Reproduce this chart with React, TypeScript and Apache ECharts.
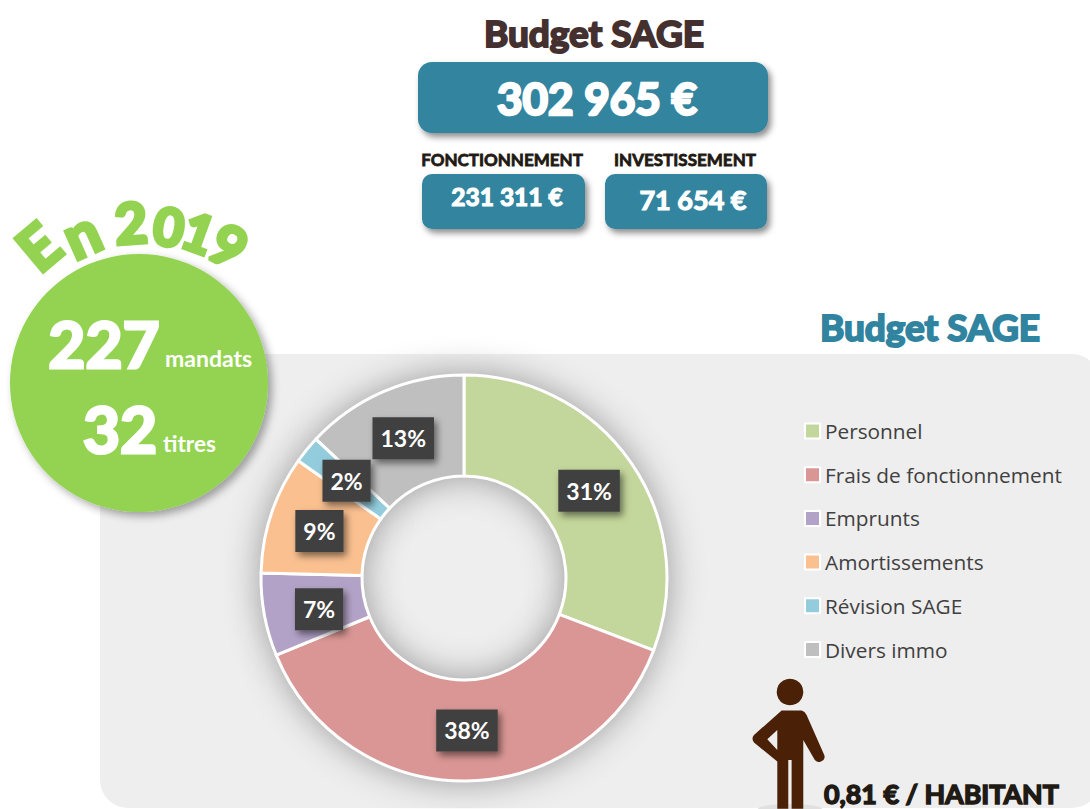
import React, { useEffect, useRef } from "react";
import * as echarts from "echarts";

const categories = ["Personnel", "Frais de fonctionnement", "Emprunts", "Amortissements", "Révision SAGE", "Divers immo"];
const shares = [30.8, 38.0, 6.6, 9.4, 2.2, 13.0];
const sliceColors = ["#C3D69B", "#D99694", "#B3A2C7", "#FAC090", "#93CDDD", "#BFBFBF"];
const labelNudgeX = [-3, 1, 8, 3, 3, 1];
const labelNudgeY = [1, -3, 3, 2, 1, 3];

const TEAL = "#31849F";
const HEAVY = "Lato";
const INK = "#1F1A14";
const GREEN = "#93D351";

const yearGlyphs = [
  { ch: "E", x: 38, y: 246, r: 40, s: 60 },
  { ch: "n", x: 81, y: 233, r: 24, s: 60 },
  { ch: "2", x: 131, y: 222, r: 4, s: 56 },
  { ch: "0", x: 169, y: 226, r: -10, s: 52 },
  { ch: "1", x: 199, y: 232, r: -20, s: 52 },
  { ch: "9", x: 229, y: 245, r: -30, s: 56 },
];

const PERSON =
  "M125 152 L185 152 Q195 155 200 165 L253 285 Q258 300 240 306 Q228 308 222 296 L190 240 L190 447 L155 447 L155 300 L145 300 L145 447 L112 447 L112 305 L42 248 Q33 235 42 225 Z M112 210 L82 238 L112 270 Z";
echarts.graphic.registerShape("person", echarts.graphic.extendPath(PERSON, {}));

const heavyText = (text: string, x: number, y: number, size: number, fill: string, bold: number, align = "center") => ({
  type: "text",
  x,
  y,
  z: 10,
  style: {
    text,
    fill,
    stroke: bold > 0 ? fill : undefined,
    lineWidth: bold,
    font: `700 ${size}px ${HEAVY}`,
    align,
    verticalAlign: "middle",
  },
});

const box = (x: number, y: number, width: number, height: number, r: number) => ({
  type: "rect",
  x,
  y,
  z: 5,
  shape: { x: 0, y: 0, width, height, r },
  style: { fill: TEAL, shadowBlur: 6, shadowOffsetX: 3, shadowOffsetY: 4, shadowColor: "rgba(0,0,0,0.45)" },
});

export default function App() {
  const ref = useRef<HTMLDivElement>(null);
  useEffect(() => {
    const chart = echarts.init(ref.current!, null, { renderer: "svg" });
    const data = categories.map((name, i) => ({ name, value: shares[i], itemStyle: { color: sliceColors[i] } }));
    chart.setOption({
      animation: false,
      backgroundColor: "#FFFFFF",
      legend: {
        orient: "vertical",
        left: 804,
        top: 419,
        padding: 0,
        icon: "rect",
        itemWidth: 15,
        itemHeight: 15,
        itemGap: 19.7,
        data: categories,
        selectedMode: false,
        itemStyle: { borderColor: "#FFFFFF", borderWidth: 2, shadowBlur: 0 },
        textStyle: { fontFamily: "Open Sans", fontSize: 20.8, color: "#404040", lineHeight: 24 },
      },
      series: [
        {
          type: "pie",
          z: 3,
          center: [464, 578],
          radius: [102, 203],
          startAngle: 90,
          clockwise: true,
          percentPrecision: 0,
          data,
          silent: true,
          itemStyle: { borderColor: "#FFFFFF", borderWidth: 3 },
          label: {
            show: true,
            position: "inside",
            formatter: "{d}%",
            fontFamily: "Lato",
            fontWeight: 700,
            fontSize: 23,
            lineHeight: 26,
            color: "#FFFFFF",
            backgroundColor: "#404040",
            padding: [8, 8],
            shadowBlur: 7,
            shadowOffsetX: 3,
            shadowOffsetY: 4,
            shadowColor: "rgba(0,0,0,0.5)",
          },
          labelLayout: (p: any) => ({ dx: labelNudgeX[p.dataIndex], dy: labelNudgeY[p.dataIndex] }),
          labelLine: { show: false },
        },
        {
          type: "pie",
          z: 2,
          center: [464, 578],
          radius: [102, 203],
          startAngle: 90,
          data,
          silent: true,
          label: { show: false },
          labelLine: { show: false },
          itemStyle: { shadowBlur: 36, shadowColor: "rgba(0,0,0,0.38)" },
        },
      ],
      graphic: {
        elements: [
          { type: "rect", x: 100, y: 354, z: 0, shape: { x: 0, y: 0, width: 1000, height: 454, r: 28 }, style: { fill: "#EEEEEE" } },
          heavyText("Budget SAGE", 594, 32, 37, "#453030", 2),
          box(418, 62, 350, 71, 14),
          heavyText("302 965 €", 597, 98, 44, "#FFFFFF", 2.5),
          heavyText("FONCTIONNEMENT", 502, 159, 17, INK, 0.8),
          heavyText("INVESTISSEMENT", 685, 159, 17, INK, 0.8),
          box(422, 174, 163, 55, 10),
          box(605, 174, 162, 55, 10),
          heavyText("231 311 €", 507, 196, 24.5, "#FFFFFF", 1.2),
          heavyText("71 654 €", 693, 199, 27, "#FFFFFF", 1.2),
          heavyText("Budget SAGE", 930, 326, 37, TEAL, 2),
          {
            type: "circle",
            z: 6,
            shape: { cx: 139, cy: 383, r: 129 },
            style: { fill: GREEN, shadowBlur: 8, shadowOffsetX: 4, shadowOffsetY: 4, shadowColor: "rgba(0,0,0,0.35)" },
          },
          ...yearGlyphs.map((g) => ({
            type: "text",
            x: g.x,
            y: g.y,
            rotation: (g.r * Math.PI) / 180,
            z: 10,
            style: { text: g.ch, fill: GREEN, stroke: GREEN, lineWidth: 4, font: `700 ${g.s}px ${HEAVY}`, align: "center", verticalAlign: "middle" },
          })),
          heavyText("227", 104, 343, 64, "#FFFFFF", 3),
          heavyText("mandats", 165, 358, 23, "#FFFFFF", 0, "left"),
          heavyText("32", 120, 428, 64, "#FFFFFF", 3),
          heavyText("titres", 163, 443, 22.5, "#FFFFFF", 0, "left"),
          { type: "ellipse", z: 7, shape: { cx: 790, cy: 809, rx: 32, ry: 5 }, style: { fill: "#E0E0E0" } },
          { type: "circle", z: 8, shape: { cx: 790, cy: 692, r: 13.3 }, style: { fill: "#4A2106" } },
          { type: "person", x: 740, y: 660, scaleX: 1 / 3, scaleY: 1 / 3, z: 8, style: { fill: "#4A2106" } },
          heavyText("0,81 € / HABITANT", 824, 794, 26.8, INK, 1.5, "left"),
        ],
      },
    });
    return () => chart.dispose();
  }, []);
  return <div ref={ref} style={{ position: "absolute", left: 0, top: 0, width: 1090, height: 809 }} />;
}
